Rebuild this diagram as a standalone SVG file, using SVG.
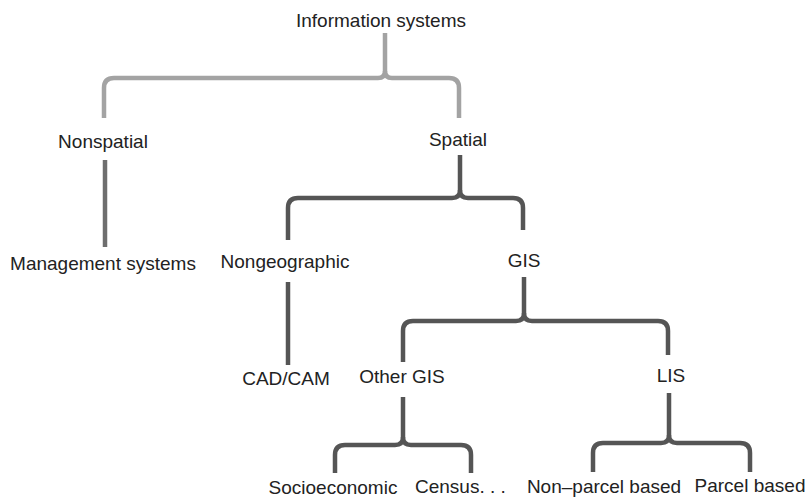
<svg xmlns="http://www.w3.org/2000/svg" width="808" height="497" viewBox="0 0 808 497">
<style>
text{font-family:"Liberation Sans",Arial,sans-serif;font-size:19px;fill:#222;text-anchor:middle}
.c{fill:none;stroke-width:4.5;stroke-linejoin:round}
.l1{stroke:#a3a3a3}
.l2{stroke:#6e6e6e}
.l3{stroke:#555}
</style>
<rect width="808" height="497" fill="#fff"/>
<g id="connectors">
<path class="c l1" d="M385,33 V71 Q385,78 378,78 H114 Q104,78 104,88 V118"/>
<path class="c l1" d="M385,71 Q385,78 392,78 H449 Q459,78 459,88 V118"/>
<path class="c l2" d="M105,160 V247"/>
<path class="c l3" d="M460,155 V190 Q460,198 452,198 H298 Q288,198 288,208 V240"/>
<path class="c l3" d="M460,190 Q460,198 468,198 H513 Q523,198 523,208 V230"/>
<path class="c l3" d="M288,282 V365"/>
<path class="c l3" d="M524,277 V313 Q524,321 516,321 H413 Q403,321 403,331 V362"/>
<path class="c l3" d="M524,313 Q524,321 532,321 H658 Q668,321 668,331 V355"/>
<path class="c l3" d="M403,397 V437 Q403,445 395,445 H345 Q335,445 335,455 V473"/>
<path class="c l3" d="M403,437 Q403,445 411,445 H461 Q471,445 471,455 V473"/>
<path class="c l3" d="M669,393 V435 Q669,443 661,443 H603 Q593,443 593,453 V472"/>
<path class="c l3" d="M669,435 Q669,443 677,443 H740 Q750,443 750,453 V472"/>
</g>
<g id="n-information-systems"><text x="381" y="27">Information systems</text></g>
<g id="n-nonspatial"><text x="103" y="148">Nonspatial</text></g>
<g id="n-spatial"><text x="458" y="146">Spatial</text></g>
<g id="n-management-systems"><text x="103" y="270">Management systems</text></g>
<g id="n-nongeographic"><text x="285" y="268">Nongeographic</text></g>
<g id="n-gis"><text x="524" y="267">GIS</text></g>
<g id="n-cadcam"><text x="286" y="385">CAD/CAM</text></g>
<g id="n-other-gis"><text x="402" y="383">Other GIS</text></g>
<g id="n-lis"><text x="671" y="382">LIS</text></g>
<g id="n-socioeconomic"><text x="333" y="494">Socioeconomic</text></g>
<g id="n-census"><text x="415" y="493" style="text-anchor:start">Census. . .</text></g>
<g id="n-non-parcel"><text x="604" y="493">Non–parcel based</text></g>
<g id="n-parcel"><text x="750" y="492">Parcel based</text></g>
</svg>
